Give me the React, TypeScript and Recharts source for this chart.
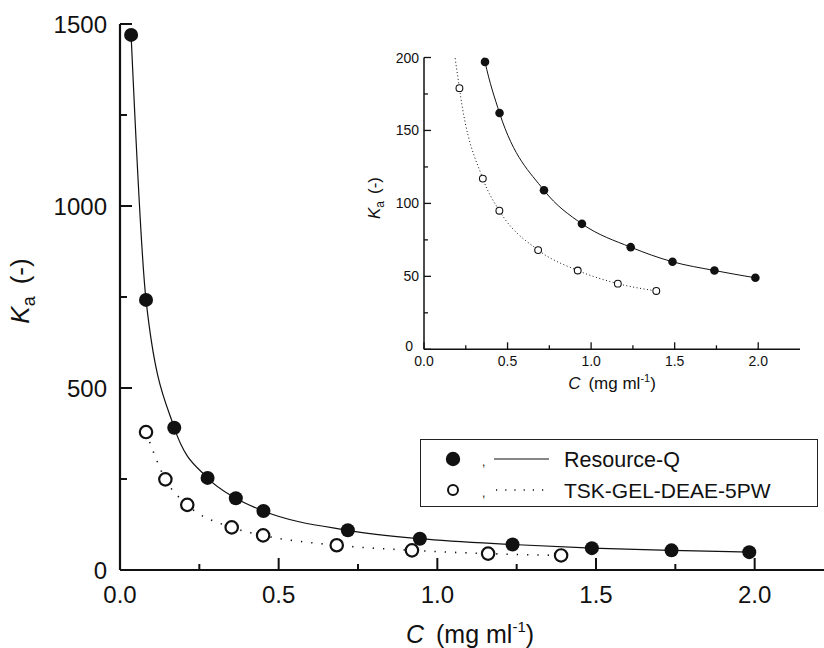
import React from 'react';
import { ComposedChart, Scatter, XAxis, YAxis, Legend, Label } from 'recharts';

// ---- data ----
const resourceQC = [0.035, 0.082, 0.171, 0.276, 0.365, 0.452, 0.718, 0.945, 1.237, 1.487, 1.738, 1.983];
const resourceQKa = [1470, 742, 391, 253, 197, 162, 109, 86, 70, 60, 54, 49];
const tskC = [0.082, 0.143, 0.212, 0.352, 0.451, 0.683, 0.92, 1.16, 1.39];
const tskKa = [379, 249, 179, 117, 95, 68, 54, 45, 40];

const seriesNames = ['Resource-Q', 'TSK-GEL-DEAE-5PW'];

const mainXTicks = [0, 0.25, 0.5, 0.75, 1, 1.25, 1.5, 1.75, 2];
const mainXLabels = [0, 0.5, 1, 1.5, 2];
const mainYTicks = [0, 250, 500, 750, 1000, 1250, 1500];
const mainYLabels = [0, 500, 1000, 1500];
const insetXTicks = [0, 0.25, 0.5, 0.75, 1, 1.25, 1.5, 1.75, 2];
const insetXLabels = [0, 0.5, 1, 1.5, 2];
const insetYTicks = [0, 25, 50, 75, 100, 125, 150, 175, 200];
const insetYLabels = [0, 50, 100, 150, 200];

const toPoints = (xs: number[], ys: number[]) => xs.map((x, i) => ({ x, y: ys[i] }));
const resourceQ = toPoints(resourceQC, resourceQKa);
const tsk = toPoints(tskC, tskKa);

const FONT = '"Liberation Sans", Arial, Helvetica, sans-serif';
const INK = '#111';

const isIn = (arr: number[], v: number) => arr.some((a) => Math.abs(a - v) < 1e-9);

// ---- tick renderers (inward ticks) ----
const MainXTick = (p: any) => {
  const { x, y, payload } = p;
  const v = payload.value;
  const major = isIn(mainXLabels, v);
  return (
    <g>
      <line x1={x} x2={x} y1={y} y2={y - (major ? 12 : 6)} stroke={INK} strokeWidth={2} />
      {major && (
        <text x={x} y={y + 33} textAnchor="middle" fontSize={24} fontFamily={FONT} fill={INK}>
          {v.toFixed(1)}
        </text>
      )}
    </g>
  );
};

const MainYTick = (p: any) => {
  const { x, y, payload } = p;
  const v = payload.value;
  const major = isIn(mainYLabels, v);
  return (
    <g>
      <line x1={x} x2={x + (major ? 12 : 7)} y1={y} y2={y} stroke={INK} strokeWidth={2} />
      {major && (
        <text x={x - 13} y={y + 8.5} textAnchor="end" fontSize={24} fontFamily={FONT} fill={INK}>
          {v}
        </text>
      )}
    </g>
  );
};

const InsetXTick = (p: any) => {
  const { x, y, payload } = p;
  const v = payload.value;
  const major = isIn(insetXLabels, v);
  return (
    <g>
      <line x1={x} x2={x} y1={y} y2={y - (major ? 7 : 4)} stroke={INK} strokeWidth={1.3} />
      {major && (
        <text x={x} y={y + 17} textAnchor="middle" fontSize={14} fontFamily={FONT} fill={INK}>
          {v.toFixed(1)}
        </text>
      )}
    </g>
  );
};

const InsetYTick = (p: any) => {
  const { x, y, payload } = p;
  const v = payload.value;
  const major = isIn(insetYLabels, v);
  const atZero = v === 0;
  return (
    <g>
      <line x1={x} x2={x + (major ? 7 : 4)} y1={y} y2={y} stroke={INK} strokeWidth={1.3} />
      {major && (
        <text
          x={x - (atZero ? 11 : 5)}
          y={y + (atZero ? 2 : 5)}
          textAnchor="end"
          fontSize={14}
          fontFamily={FONT}
          fill={INK}
        >
          {v}
        </text>
      )}
    </g>
  );
};

// ---- marker shapes ----
const FilledBig = (p: any) => <circle cx={p.cx} cy={p.cy} r={7} fill={INK} />;
const OpenBig = (p: any) => <circle cx={p.cx} cy={p.cy} r={6.2} fill="#fff" stroke={INK} strokeWidth={2.2} />;
const FilledSmall = (p: any) => <circle cx={p.cx} cy={p.cy} r={4.3} fill={INK} />;
const OpenSmall = (p: any) => <circle cx={p.cx} cy={p.cy} r={3.4} fill="#fff" stroke={INK} strokeWidth={1.1} />;

// ---- titles ----
const MainXTitle = () => (
  <text x={470} y={643} textAnchor="middle" fontSize={25} fontFamily={FONT} fill={INK}>
    <tspan fontStyle="italic">C</tspan>
    <tspan dx={12}>(mg ml</tspan>
    <tspan fontSize={15} dy={-11}>-1</tspan>
    <tspan dy={11}>)</tspan>
  </text>
);

const MainYTitle = () => (
  <text transform="translate(29,291) rotate(-90)" textAnchor="middle" fontSize={26} fontFamily={FONT} fill={INK}>
    <tspan fontStyle="italic">K</tspan>
    <tspan fontSize={18} dy={6}>a</tspan>
    <tspan dx={12} dy={-6}>(-)</tspan>
  </text>
);

// inset titles: coordinates relative to inset chart (offset 344, 30)
const InsetXTitle = () => (
  <text x={612 - 344} y={389 - 30} textAnchor="middle" fontSize={17} fontFamily={FONT} fill={INK}>
    <tspan fontStyle="italic">C</tspan>
    <tspan dx={8}>(mg ml</tspan>
    <tspan fontSize={11} dy={-7}>-1</tspan>
    <tspan dy={7}>)</tspan>
  </text>
);

const InsetYTitle = () => (
  <text transform={`translate(${380 - 344},${198 - 30}) rotate(-90)`} textAnchor="middle" fontSize={17} fontFamily={FONT} fill={INK}>
    <tspan fontStyle="italic">K</tspan>
    <tspan fontSize={12} dy={4}>a</tspan>
    <tspan dx={7} dy={-4}>(-)</tspan>
  </text>
);

// ---- legend ----
const renderLegend = () => (
  <div style={{ width: 398, height: 68, boxSizing: 'border-box', border: '1.5px solid #222', background: '#fff' }}>
    <svg width={395} height={65} style={{ display: 'block' }}>
      <circle cx={32} cy={19} r={7.2} fill={INK} />
      <text x={61} y={26} fontSize={12} fontFamily={FONT} fill={INK}>,</text>
      <line x1={73} x2={128} y1={19} y2={19} stroke={INK} strokeWidth={1.2} />
      <text x={143} y={27} fontSize={21.5} fontFamily={FONT} fill={INK}>{seriesNames[0]}</text>
      <circle cx={32} cy={50} r={5} fill="#fff" stroke={INK} strokeWidth={2} />
      <text x={61} y={57} fontSize={12} fontFamily={FONT} fill={INK}>,</text>
      <line x1={75} x2={128} y1={50} y2={50} stroke={INK} strokeWidth={1.4} strokeDasharray="1.2 8" />
      <text x={143} y={58} fontSize={21} fontFamily={FONT} fill={INK}>{seriesNames[1]}</text>
    </svg>
  </div>
);

export default function App() {
  return (
    <div style={{ position: 'absolute', left: 0, top: 0, width: 824, height: 648, overflow: 'hidden', background: '#fff' }}>
      <div style={{ position: 'absolute', left: 0, top: 0 }}>
        <ComposedChart width={860} height={648} margin={{ top: 24, right: 26, left: 0, bottom: 0 }}>
          <XAxis
            xAxisId="b"
            dataKey="x"
            type="number"
            domain={[0, 2.25]}
            ticks={mainXTicks}
            interval={0}
            tickLine={false}
            tickSize={0}
            tickMargin={0}
            height={78}
            axisLine={{ stroke: INK, strokeWidth: 2.2 }}
            tick={(p: any) => <MainXTick {...p} />}
            allowDataOverflow
          >
            <Label content={MainXTitle} />
          </XAxis>
          <XAxis
            xAxisId="t"
            orientation="top"
            type="number"
            domain={[0, 2.25]}
            height={0}
            tick={false}
            tickLine={false}
            axisLine={{ stroke: INK, strokeWidth: 2.2 }}
            allowDataOverflow
          />
          <YAxis
            yAxisId="l"
            dataKey="y"
            type="number"
            domain={[0, 1500]}
            ticks={mainYTicks}
            interval={0}
            tickLine={false}
            tickSize={0}
            tickMargin={0}
            width={120}
            axisLine={{ stroke: INK, strokeWidth: 2.2 }}
            tick={(p: any) => <MainYTick {...p} />}
            allowDataOverflow
          >
            <Label content={MainYTitle} />
          </YAxis>
          <Legend
            layout="horizontal"
            verticalAlign="middle"
            align="center"
            content={renderLegend}
            wrapperStyle={{ position: 'absolute', left: 420, top: 439, width: 398, height: 68 }}
          />
          <Scatter
            name={seriesNames[0]}
            xAxisId="b"
            yAxisId="l"
            data={resourceQ}
            line={{ stroke: INK, strokeWidth: 1.2 }}
            lineJointType="monotoneX"
            shape={FilledBig}
            isAnimationActive={false}
          />
          <Scatter
            name={seriesNames[1]}
            xAxisId="b"
            yAxisId="l"
            data={tsk}
            line={{ stroke: INK, strokeWidth: 1.6, strokeDasharray: '1.3 9' }}
            lineJointType="monotoneX"
            shape={OpenBig}
            isAnimationActive={false}
          />
        </ComposedChart>
      </div>

      <div style={{ position: 'absolute', left: 344, top: 30 }}>
        <ComposedChart width={470} height={380} margin={{ top: 27.5, right: 14, left: 0, bottom: 0 }}>
          <XAxis
            xAxisId="b"
            dataKey="x"
            type="number"
            domain={[0, 2.25]}
            ticks={insetXTicks}
            interval={0}
            tickLine={false}
            tickSize={0}
            tickMargin={0}
            height={60.7}
            axisLine={{ stroke: INK, strokeWidth: 1.5 }}
            tick={(p: any) => <InsetXTick {...p} />}
            allowDataOverflow
          >
            <Label content={InsetXTitle} />
          </XAxis>
          <XAxis
            xAxisId="t"
            orientation="top"
            type="number"
            domain={[0, 2.25]}
            height={0}
            tick={false}
            tickLine={false}
            axisLine={{ stroke: INK, strokeWidth: 1.5 }}
            allowDataOverflow
          />
          <YAxis
            yAxisId="l"
            dataKey="y"
            type="number"
            domain={[0, 200]}
            ticks={insetYTicks}
            interval={0}
            tickLine={false}
            tickSize={0}
            tickMargin={0}
            width={80}
            axisLine={{ stroke: INK, strokeWidth: 1.5 }}
            tick={(p: any) => <InsetYTick {...p} />}
            allowDataOverflow
          >
            <Label content={InsetYTitle} />
          </YAxis>
          <YAxis
            yAxisId="r"
            orientation="right"
            type="number"
            domain={[0, 200]}
            width={0}
            tick={false}
            tickLine={false}
            axisLine={{ stroke: INK, strokeWidth: 1.5 }}
            allowDataOverflow
          />
          <Scatter
            name={seriesNames[0]}
            xAxisId="b"
            yAxisId="l"
            data={resourceQ}
            line={{ stroke: INK, strokeWidth: 1 }}
            lineJointType="monotoneX"
            shape={FilledSmall}
            isAnimationActive={false}
          />
          <Scatter
            name={seriesNames[1]}
            xAxisId="b"
            yAxisId="l"
            data={tsk}
            line={{ stroke: INK, strokeWidth: 1, strokeDasharray: '1 2.5' }}
            lineJointType="monotoneX"
            shape={OpenSmall}
            isAnimationActive={false}
          />
        </ComposedChart>
      </div>
    </div>
  );
}
